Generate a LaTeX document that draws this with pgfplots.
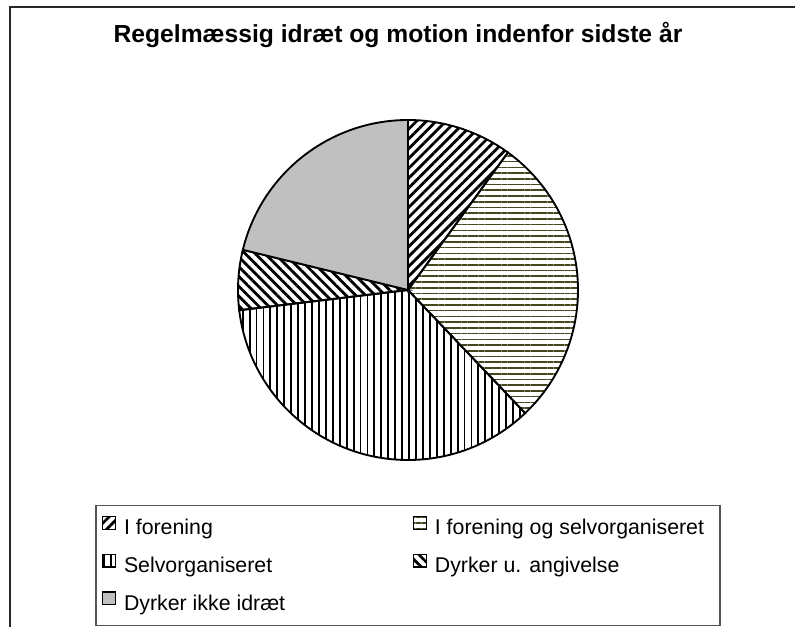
\documentclass[border=0pt]{standalone}
\usepackage{pgfplots}
\pgfplotsset{compat=1.18}
\usepackage{pgfplotstable}
\usepackage{fontspec}
\setmainfont{Liberation Sans}
\usetikzlibrary{patterns.meta}

\definecolor{olive}{RGB}{70,70,30}
\definecolor{piegray}{RGB}{192,192,192}
\definecolor{framegray}{RGB}{40,40,40}
\definecolor{leggray}{RGB}{85,85,85}

% share of respondents (percent), clockwise from 12 o'clock
\pgfplotstableread{
idx value
1 10.0
2 27.9
3 35.2
4 5.7
5 21.2
}\piedata

\tikzset{
  sA/.style={pattern={Lines[angle=45,distance=5.2pt,line width=2.1pt]},pattern color=black},
  sB/.style={pattern={Lines[angle=0,distance=4.3pt,line width=1.2pt]},pattern color=olive},
  sC/.style={pattern={Lines[angle=90,distance=5.2pt,line width=1.4pt]},pattern color=black},
  sD/.style={pattern={Lines[angle=-45,distance=5.2pt,line width=2.1pt]},pattern color=black},
  sE/.style={fill=piegray},
}

\begin{document}
\begin{tikzpicture}
\useasboundingbox (0,0) rectangle (596.25pt,469.5pt);
\pgfplotstablegetelem{0}{value}\of\piedata\pgfmathsetmacro\vA{\pgfplotsretval}
\pgfplotstablegetelem{1}{value}\of\piedata\pgfmathsetmacro\vB{\pgfplotsretval}
\pgfplotstablegetelem{2}{value}\of\piedata\pgfmathsetmacro\vC{\pgfplotsretval}
\pgfplotstablegetelem{3}{value}\of\piedata\pgfmathsetmacro\vD{\pgfplotsretval}
\pgfplotstablegetelem{4}{value}\of\piedata\pgfmathsetmacro\vE{\pgfplotsretval}
\pgfmathsetmacro\aA{90}
\pgfmathsetmacro\aB{\aA-3.6*\vA}
\pgfmathsetmacro\aC{\aB-3.6*\vB}
\pgfmathsetmacro\aD{\aC-3.6*\vC}
\pgfmathsetmacro\aE{\aD-3.6*\vD}
\pgfmathsetmacro\aF{\aE-3.6*\vE}
\begin{axis}[
  at={(0pt,0pt)}, anchor=south west,
  x=0.75pt, y=0.75pt, xmin=0, xmax=795, ymin=0, ymax=626,
  hide axis, clip=false,
  title={Regelmæssig idræt og motion indenfor sidste år},
  title style={at={(0.5006,0.932)}, anchor=center, font=\fontsize{18.5}{22}\selectfont\bfseries},
  legend columns=2,
  legend style={at={(axis cs:408,121)}, anchor=north, draw=leggray, line width=1.1pt,
    inner xsep=4.5pt, inner ysep=7.6pt, font=\fontsize{16}{18}\selectfont,
    nodes={inner sep=0pt, text height=11.25pt, text depth=3.75pt},
    row sep=10.5pt, /tikz/every odd column/.style={column sep=6pt}},
  legend image code/.code={\draw[#1, line width=0.9pt, draw=black] (0pt,0.4pt) rectangle (9.5pt,9.9pt);},
]
\def\cx{408}\def\cy{336}\def\R{127.5pt}
\filldraw[sA, draw=black, line width=1.4pt] (axis cs:\cx,\cy) -- ++(\aA:\R) arc[start angle=\aA, end angle=\aB, radius=\R] -- cycle;
\filldraw[sB, draw=black, line width=1.4pt] (axis cs:\cx,\cy) -- ++(\aB:\R) arc[start angle=\aB, end angle=\aC, radius=\R] -- cycle;
\filldraw[sC, draw=black, line width=1.4pt] (axis cs:\cx,\cy) -- ++(\aC:\R) arc[start angle=\aC, end angle=\aD, radius=\R] -- cycle;
\filldraw[sD, draw=black, line width=1.4pt] (axis cs:\cx,\cy) -- ++(\aD:\R) arc[start angle=\aD, end angle=\aE, radius=\R] -- cycle;
\filldraw[sE, draw=black, line width=1.4pt] (axis cs:\cx,\cy) -- ++(\aE:\R) arc[start angle=\aE, end angle=\aF, radius=\R] -- cycle;
\addlegendimage{sA}\addlegendentry{\makebox[216.75pt][l]{I forening}}
\addlegendimage{sB}\addlegendentry{\makebox[209.25pt][l]{I forening og selvorganiseret}}
\addlegendimage{sC}\addlegendentry{\makebox[216.75pt][l]{Selvorganiseret}}
\addlegendimage{sD}\addlegendentry{\makebox[209.25pt][l]{Dyrker u. angivelse}}
\addlegendimage{sE}\addlegendentry{\makebox[216.75pt][l]{Dyrker ikke idræt}}
\end{axis}
\draw[line width=1.5pt, framegray] (7.5pt,-10pt) -- (7.5pt,464.25pt) -- (610pt,464.25pt);
\end{tikzpicture}
\end{document}
